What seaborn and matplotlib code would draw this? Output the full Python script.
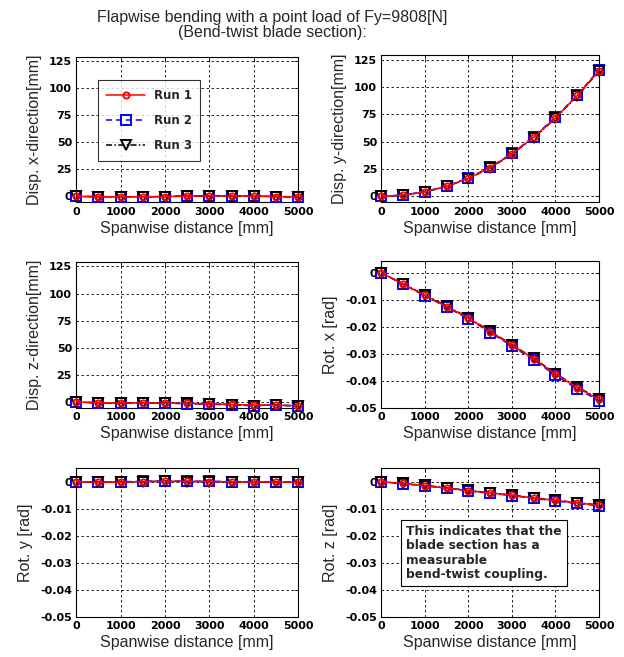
import matplotlib
matplotlib.use("Agg")
import matplotlib.pyplot as plt
import seaborn as sns

sns.set_theme(style="white")
plt.rcParams["font.family"] = ["Liberation Sans", "DejaVu Sans"]

# ---------------------------
# Data
# ---------------------------
span = [0, 500, 1000, 1500, 2000, 2500, 3000, 3500, 4000, 4500, 5000]
runs = ["Run 1", "Run 2", "Run 3"]

disp_x_run1 = [0, -0.3, -0.4, -0.4, -0.2, 0.2, 0.5, 0.4, 0.2, -0.2, -0.5]
disp_x_run2 = [0, -0.2, -0.3, -0.3, -0.1, 0.4, 0.7, 0.6, 0.4, -0.1, -0.4]
disp_x_run3 = [0, -0.3, -0.3, -0.4, -0.2, 0.3, 0.6, 0.5, 0.3, -0.2, -0.5]

disp_y_run1 = [0, 1.0, 4.2, 9.2, 16.5, 26.2, 38.8, 54.0, 71.8, 92.2, 115.0]
disp_y_run2 = [0, 1.1, 4.3, 9.4, 16.8, 26.5, 39.2, 54.5, 72.3, 92.6, 115.6]
disp_y_run3 = [0, 0.9, 4.0, 9.0, 16.3, 25.9, 38.5, 53.6, 71.3, 91.8, 114.5]

disp_z_run1 = [0, -0.6, -0.8, -0.9, -1.0, -1.2, -1.6, -2.2, -2.8, -2.9, -3.4]
disp_z_run2 = [0, -0.8, -1.0, -1.0, -1.2, -1.4, -2.0, -2.6, -3.4, -2.6, -3.8]
disp_z_run3 = [0, -0.7, -0.9, -1.0, -1.1, -1.3, -1.8, -2.4, -3.2, -2.8, -3.6]

rot_x_run1 = [0, -0.0042, -0.0083, -0.0125, -0.0168, -0.0218, -0.0268, -0.0318, -0.0375, -0.0425, -0.0468]
rot_x_run2 = [0, -0.0043, -0.0085, -0.0127, -0.0170, -0.0221, -0.0271, -0.0322, -0.0379, -0.0429, -0.0473]
rot_x_run3 = [0, -0.0041, -0.0082, -0.0123, -0.0166, -0.0216, -0.0266, -0.0316, -0.0373, -0.0422, -0.0466]

rot_y_run1 = [0, -0.0001, -0.0001, 0.0001, 0.0002, 0.0002, 0.0001, 0.0, -0.0001, -0.0001, -0.0001]
rot_y_run2 = [0, -0.0001, 0.0, 0.0002, 0.0003, 0.0002, 0.0002, 0.0001, 0.0, -0.0001, 0.0]
rot_y_run3 = [0, -0.0002, -0.0001, 0.0001, 0.0002, 0.0001, 0.0001, -0.0001, -0.0001, -0.0002, -0.0001]

rot_z_run1 = [0, -0.0006, -0.0014, -0.0023, -0.0033, -0.0041, -0.0050, -0.0060, -0.0069, -0.0078, -0.0087]
rot_z_run2 = [0, -0.0007, -0.0015, -0.0024, -0.0034, -0.0042, -0.0051, -0.0061, -0.0071, -0.0080, -0.0088]
rot_z_run3 = [0, -0.0006, -0.0013, -0.0022, -0.0032, -0.0040, -0.0049, -0.0059, -0.0068, -0.0077, -0.0086]

disp_ticks = [0, 25, 50, 75, 100, 125]
rot_ticks = [0, -0.01, -0.02, -0.03, -0.04, -0.05]
rot_tick_labels = ["0", "-0.01", "-0.02", "-0.03", "-0.04", "-0.05"]
x_ticks = [0, 1000, 2000, 3000, 4000, 5000]

panels = [
    ("Disp. x-direction[mm]", [disp_x_run1, disp_x_run2, disp_x_run3], "disp"),
    ("Disp. y-direction[mm]", [disp_y_run1, disp_y_run2, disp_y_run3], "disp"),
    ("Disp. z-direction[mm]", [disp_z_run1, disp_z_run2, disp_z_run3], "disp"),
    ("Rot. x [rad]", [rot_x_run1, rot_x_run2, rot_x_run3], "rotx"),
    ("Rot. y [rad]", [rot_y_run1, rot_y_run2, rot_y_run3], "rot"),
    ("Rot. z [rad]", [rot_z_run1, rot_z_run2, rot_z_run3], "rot"),
]

# style per run
run_styles = [
    dict(color="red", linestyle="-", marker="o", markersize=4.5, zorder=5),
    dict(color="blue", linestyle=(0, (4, 2.5)), marker="s", markersize=7.5, zorder=3),
    dict(color="black", linestyle=(0, (4, 1.5, 1, 1.5)), marker="v", markersize=7.5, zorder=4),
]

# axes rectangles [left, bottom, width, height]
positions = [
    [0.122, 0.692, 0.356, 0.222],
    [0.611, 0.692, 0.349, 0.224],
    [0.122, 0.379, 0.356, 0.222],
    [0.611, 0.379, 0.349, 0.224],
    [0.122, 0.061, 0.356, 0.227],
    [0.611, 0.061, 0.349, 0.227],
]

fig = plt.figure(figsize=(6.24, 6.57), dpi=100)
fig.text(0.436, 0.985, "Flapwise bending with a point load of Fy=9808[N]\n(Bend-twist blade section):",
         ha="center", va="top", fontsize=11.5, linespacing=1.05)

axes = []
for pos, (ylabel, series, kind) in zip(positions, panels):
    ax = fig.add_axes(pos)
    axes.append(ax)
    for name, vals, st in zip(runs, series, run_styles):
        sns.lineplot(x=span, y=vals, ax=ax, label=name, color=st["color"],
                     linestyle=st["linestyle"], marker=st["marker"],
                     markersize=st["markersize"], markerfacecolor="none",
                     markeredgecolor=st["color"], markeredgewidth=1.4,
                     linewidth=1.1, zorder=st["zorder"], clip_on=False)
    ax.set_xlim(0, 5000)
    ax.set_xticks(x_ticks)
    if kind == "disp":
        ax.set_ylim(-5.5, 129)
        ax.set_yticks(disp_ticks)
    elif kind == "rotx":
        ax.set_ylim(-0.05, 0.0044)
        ax.set_yticks(rot_ticks)
        ax.set_yticklabels(rot_tick_labels)
    else:
        ax.set_ylim(-0.05, 0.0052)
        ax.set_yticks(rot_ticks)
        ax.set_yticklabels(rot_tick_labels)
    ax.grid(True, color="black", linestyle=(0, (3, 3)), linewidth=0.6)
    ax.set_axisbelow(True)
    ax.tick_params(direction="in", top=True, right=True, length=3, width=0.6,
                   labelsize=8, colors="black", pad=3)
    for lab in ax.get_xticklabels() + ax.get_yticklabels():
        lab.set_fontweight("bold")
        lab.set_family(["DejaVu Sans"])
    for sp in ax.spines.values():
        sp.set_color("black")
        sp.set_linewidth(0.8)
    ax.set_xlabel("Spanwise distance [mm]", fontsize=11.5, labelpad=3)
    ax.set_ylabel(ylabel, fontsize=11.5, labelpad=5)
    if ax.get_legend() is not None:
        ax.get_legend().remove()

leg = axes[0].legend(loc="upper left", bbox_to_anchor=(0.099, 0.836), borderaxespad=0,
                     frameon=True, fancybox=False, edgecolor="black", handlelength=3.3,
                     labelspacing=1.05, borderpad=0.7, handletextpad=0.7,
                     prop={"weight": "bold", "size": 8.5, "family": "DejaVu Sans"})
leg.get_frame().set_linewidth(0.8)

axes[5].text(0.115, 0.615, "This indicates that the\nblade section has a\nmeasurable\nbend-twist coupling.",
             transform=axes[5].transAxes, ha="left", va="top", fontsize=8.8,
             fontweight="bold", family=["DejaVu Sans"], linespacing=1.12, zorder=6,
             bbox=dict(boxstyle="square,pad=0.45", facecolor="white", edgecolor="black", linewidth=0.8))

fig.savefig("out.png", dpi=100)
